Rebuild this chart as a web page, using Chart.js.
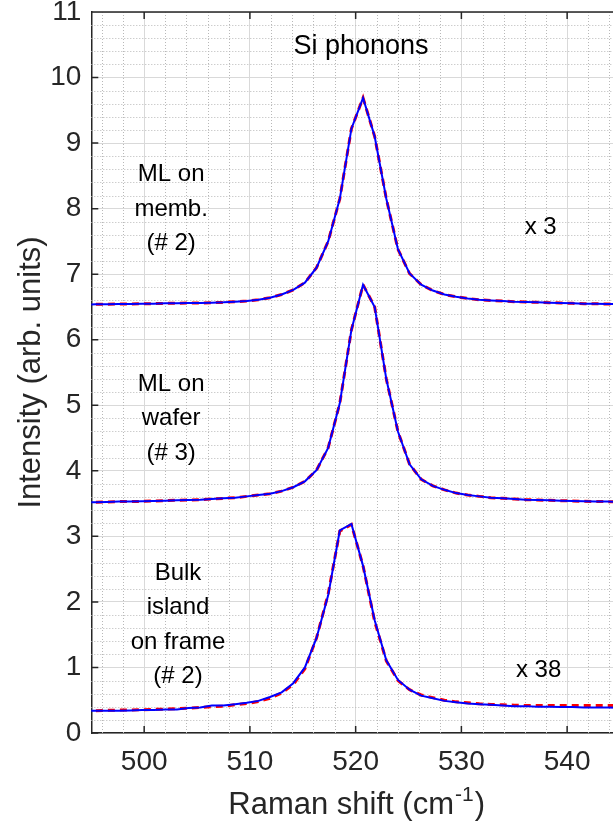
<!DOCTYPE html>
<html>
<head>
<meta charset="utf-8">
<script src="https://cdn.jsdelivr.net/npm/chart.js@4.4.1/dist/chart.umd.min.js"></script>
<style>
  html, body { margin: 0; padding: 0; background: #fff; overflow: hidden; }
  #wrap { width: 625px; height: 834px; }
</style>
</head>
<body>
<div id="wrap"><canvas id="c" width="625" height="834"></canvas></div>
<script>
// Raman shift (cm-1) of the sampled points
const shift = [494.3, 495.4, 496.5, 497.6, 498.7, 499.8, 500.9, 502.0, 503.1, 504.2,
  505.3, 506.4, 507.5, 508.6, 509.7, 510.8, 511.9, 513.0, 514.1, 515.2,
  516.3, 517.4, 518.5, 519.6, 520.7, 521.8, 522.9, 524.0, 525.1, 526.2,
  527.3, 528.4, 529.5, 530.6, 531.7, 532.8, 533.9, 535.0, 536.1, 537.2,
  538.3, 539.4, 540.5, 541.6, 542.7, 543.8, 544.9];

// ML on membrane (#2), x3, offset
const membData = [6.535, 6.54, 6.54, 6.545, 6.545, 6.55, 6.55, 6.555, 6.555, 6.56,
  6.56, 6.565, 6.57, 6.58, 6.59, 6.61, 6.64, 6.69, 6.76, 6.87,
  7.10, 7.50, 8.15, 9.22, 9.69, 9.10, 8.15, 7.38, 7.01, 6.84,
  6.75, 6.69, 6.655, 6.63, 6.61, 6.60, 6.59, 6.58, 6.575, 6.57,
  6.565, 6.56, 6.555, 6.55, 6.55, 6.545, 6.545];
const membFit = membData;

// ML on wafer (#3), offset
const waferData = [3.52, 3.52, 3.525, 3.53, 3.53, 3.535, 3.54, 3.545, 3.55, 3.555,
  3.56, 3.57, 3.58, 3.59, 3.61, 3.63, 3.65, 3.69, 3.75, 3.84,
  4.01, 4.35, 5.03, 6.15, 6.84, 6.50, 5.40, 4.60, 4.10, 3.87,
  3.77, 3.71, 3.66, 3.63, 3.61, 3.59, 3.58, 3.57, 3.56, 3.555,
  3.55, 3.545, 3.54, 3.535, 3.53, 3.53, 3.525];
const waferFit = waferData;

// Bulk island on frame (#2), x38
const bulkData = [0.34, 0.34, 0.34, 0.34, 0.345, 0.35, 0.35, 0.36, 0.36, 0.38,
  0.39, 0.42, 0.42, 0.44, 0.46, 0.49, 0.55, 0.62, 0.76, 1.00,
  1.45, 2.10, 3.09, 3.19, 2.55, 1.72, 1.11, 0.81, 0.66, 0.57,
  0.53, 0.49, 0.47, 0.45, 0.44, 0.43, 0.42, 0.41, 0.41, 0.40,
  0.40, 0.395, 0.395, 0.39, 0.39, 0.39, 0.385];
const bulkFit = [0.335, 0.34, 0.345, 0.35, 0.35, 0.355, 0.36, 0.365, 0.37, 0.38,
  0.39, 0.40, 0.41, 0.43, 0.45, 0.48, 0.53, 0.61, 0.74, 0.98,
  1.45, 2.12, 3.08, 3.18, 2.55, 1.70, 1.10, 0.80, 0.66, 0.58,
  0.54, 0.50, 0.475, 0.46, 0.445, 0.435, 0.43, 0.425, 0.42, 0.42,
  0.42, 0.42, 0.42, 0.42, 0.42, 0.42, 0.42];

const xTicks = [500, 510, 520, 530, 540];
const yTicks = [0, 1, 2, 3, 4, 5, 6, 7, 8, 9, 10, 11];

// text notes, placed in data units
const notes = [
  { lines: ['Si phonons'], x: 520.5, y: 10.47, size: 27 },
  { lines: ['ML on', 'memb.', '(# 2)'], x: 502.55, y: 8.52, size: 24 },
  { lines: ['ML on', 'wafer', '(# 3)'], x: 502.55, y: 5.32, size: 24 },
  { lines: ['Bulk', 'island', 'on frame', '(# 2)'], x: 503.2, y: 2.44, size: 24 },
  { lines: ['x 3'], x: 537.5, y: 7.72, size: 24 },
  { lines: ['x 38'], x: 537.3, y: 0.955, size: 24 }
];

const FONT = '"Liberation Sans", Arial, Helvetica, sans-serif';
const AXIS = '#262626';

const pts = arr => arr.map((v, i) => ({ x: shift[i], y: v }));
const blue = d => ({ data: pts(d), borderColor: '#0000ff', borderWidth: 2, pointRadius: 0, tension: 0, fill: false });
const red = d => ({ data: pts(d), borderColor: '#ff0000', borderWidth: 3, borderDash: [7, 5], pointRadius: 0, tension: 0, fill: false });

const frame = {
  id: 'frame',
  beforeDatasetsDraw(chart) {
    const { ctx, chartArea: a, scales: { x, y } } = chart;
    ctx.save();
    ctx.strokeStyle = '#b8b8b8';
    ctx.lineWidth = 1;
    ctx.setLineDash([1, 2]);
    ctx.beginPath();
    for (let v = 496; v < 545; v += 2) {
      if (v % 10 === 0) continue;
      const px = Math.round(x.getPixelForValue(v)) + 0.5;
      ctx.moveTo(px, a.top); ctx.lineTo(px, a.bottom);
    }
    for (let i = 1; i < 55; i++) {
      if (i % 5 === 0) continue;
      const py = Math.round(y.getPixelForValue(i / 5)) + 0.5;
      ctx.moveTo(a.left, py); ctx.lineTo(a.right, py);
    }
    ctx.stroke();
    ctx.restore();
  },
  afterDraw(chart) {
    const { ctx, chartArea: a, scales: { x, y } } = chart;
    ctx.save();
    // box and inward ticks
    ctx.strokeStyle = AXIS;
    ctx.lineWidth = 1.5;
    ctx.beginPath();
    ctx.moveTo(a.left, a.top); ctx.lineTo(a.right, a.top); ctx.lineTo(a.right, a.bottom);
    xTicks.forEach(v => {
      const px = x.getPixelForValue(v);
      ctx.moveTo(px, a.bottom); ctx.lineTo(px, a.bottom - 7);
      ctx.moveTo(px, a.top); ctx.lineTo(px, a.top + 7);
    });
    yTicks.forEach(v => {
      const py = y.getPixelForValue(v);
      ctx.moveTo(a.left, py); ctx.lineTo(a.left + 7, py);
      ctx.moveTo(a.right, py); ctx.lineTo(a.right - 7, py);
    });
    ctx.stroke();

    // notes
    ctx.fillStyle = '#000';
    ctx.textAlign = 'center';
    ctx.textBaseline = 'middle';
    notes.forEach(n => {
      ctx.font = n.size + 'px ' + FONT;
      const cx = x.getPixelForValue(n.x);
      const cy = y.getPixelForValue(n.y);
      n.lines.forEach((t, i) => ctx.fillText(t, cx, cy + i * 34.5));
    });

    // y title
    ctx.fillStyle = AXIS;
    ctx.font = '31px ' + FONT;
    ctx.save();
    ctx.translate(31, (a.top + a.bottom) / 2);
    ctx.rotate(-Math.PI / 2);
    ctx.textBaseline = 'middle';
    ctx.fillText('Intensity (arb. units)', 0, 0);
    ctx.restore();

    // x title with superscript
    const main = 'Raman shift (cm', sup = '-1', tail = ')';
    ctx.textBaseline = 'alphabetic';
    ctx.textAlign = 'left';
    ctx.font = '31px ' + FONT;
    const w1 = ctx.measureText(main).width, w3 = ctx.measureText(tail).width;
    ctx.font = '21px ' + FONT;
    const w2 = ctx.measureText(sup).width;
    let sx = (a.left + a.right) / 2 - (w1 + w2 + w3) / 2;
    const base = 814;
    ctx.font = '31px ' + FONT;
    ctx.fillText(main, sx, base);
    ctx.font = '21px ' + FONT;
    ctx.fillText(sup, sx + w1 + 1, base - 13);
    ctx.font = '31px ' + FONT;
    ctx.fillText(tail, sx + w1 + w2 + 2, base);
    ctx.restore();
  }
};

new Chart(document.getElementById('c').getContext('2d'), {
  type: 'line',
  data: {
    datasets: [blue(membData), blue(waferData), blue(bulkData), red(membFit), red(waferFit), red(bulkFit)]
  },
  options: {
    responsive: false,
    animation: false,
    layout: { padding: { top: 12, right: 5, left: 0, bottom: 0 } },
    plugins: { legend: { display: false }, tooltip: { enabled: false } },
    scales: {
      x: {
        type: 'linear', min: 495, max: 545,
        afterBuildTicks: s => { s.ticks = xTicks.map(v => ({ value: v })); },
        afterFit: s => { s.height = 101; s.paddingLeft = 0; s.paddingRight = 0; },
        ticks: { color: AXIS, font: { family: FONT, size: 28 }, padding: 12, maxRotation: 0 },
        grid: { color: '#d9d9d9', drawTicks: false },
        border: { color: AXIS, width: 1.5 }
      },
      y: {
        type: 'linear', min: 0, max: 11,
        afterBuildTicks: s => { s.ticks = yTicks.map(v => ({ value: v })); },
        afterFit: s => { s.width = 91.3; s.paddingTop = 0; s.paddingBottom = 0; },
        ticks: { color: AXIS, font: { family: FONT, size: 28 }, padding: 10 },
        grid: { color: '#d9d9d9', drawTicks: false },
        border: { color: AXIS, width: 1.5 }
      }
    }
  },
  plugins: [frame]
});
</script>
</body>
</html>
